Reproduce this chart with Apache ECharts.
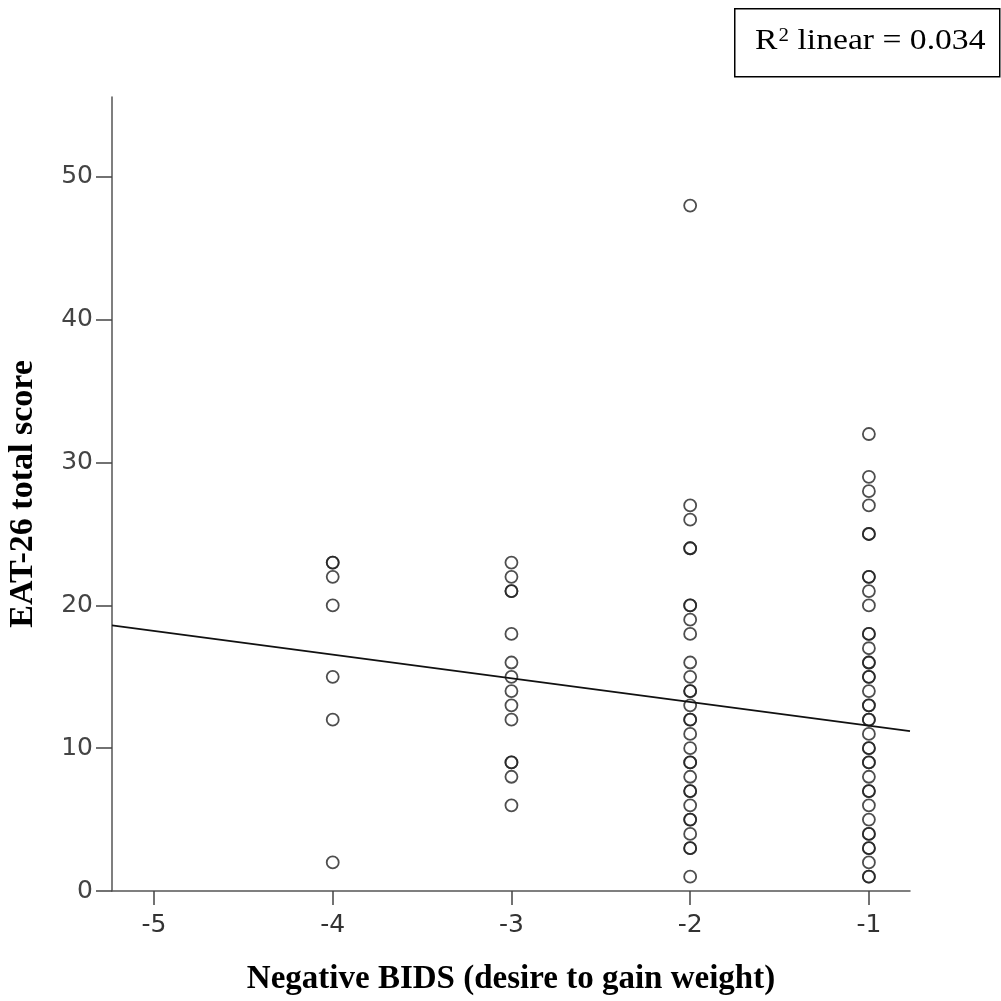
<!DOCTYPE html>
<html>
<head>
<meta charset="utf-8">
<script src="https://cdn.jsdelivr.net/npm/echarts@6/dist/echarts.min.js"></script>
<style>html,body{margin:0;padding:0;background:#fff}#c{width:1001px;height:1001px}</style>
</head>
<body>
<div id="c"></div>
<script>
// EAT-26 scores at each Negative BIDS value (repeated values = overlapping circles)
const scoresAtMinus4 = [23, 23, 22, 20, 15, 12, 2];
const scoresAtMinus3 = [23, 22, 21, 21, 18, 16, 15, 14, 13, 12, 9, 9, 8, 6];
const scoresAtMinus2 = [48, 27, 26, 24, 24, 20, 20, 19, 18, 16, 15, 14, 14, 13, 12, 12, 11, 10, 9, 9, 8, 7, 7, 6, 5, 5, 4, 3, 3, 1];
const scoresAtMinus1 = [32, 29, 28, 27, 25, 25, 22, 22, 21, 20, 18, 18, 17, 16, 16, 15, 15, 14, 13, 13, 12, 12, 11, 10, 10, 9, 9, 8, 7, 7, 6, 5, 4, 4, 3, 3, 2, 1, 1];
const bidsValues = [-4, -3, -2, -1];
// fit line endpoints
const fitX = [-5.235, -0.77];
const fitY = [18.6, 11.2];
const xTicks = [-5, -4, -3, -2, -1];
const yTicks = [0, 10, 20, 30, 40, 50];
const rSquaredText = '0.034';

const groups = [scoresAtMinus4, scoresAtMinus3, scoresAtMinus2, scoresAtMinus1];
const points = [];
groups.forEach((g, i) => g.forEach(v => points.push([bidsValues[i], v])));

const chart = echarts.init(document.getElementById('c'));
chart.setOption({
  animation: false,
  backgroundColor: '#ffffff',
  grid: { left: 112, right: 91, top: 97, bottom: 110, outerBoundsMode: 'none', containLabel: false },
  xAxis: {
    type: 'value', min: -5.235, max: -0.77,
    name: 'Negative BIDS (desire to gain weight)',
    nameLocation: 'middle', nameGap: 72,
    nameTextStyle: { fontFamily: 'Liberation Serif', fontWeight: 'bold', fontSize: 33, color: '#000' },
    axisLine: { onZero: false, lineStyle: { color: '#555', width: 1.5 } },
    axisTick: { show: true, length: 14, customValues: xTicks, lineStyle: { color: '#444', width: 1.5 } },
    axisLabel: { customValues: xTicks, margin: 22, fontFamily: 'DejaVu Sans', fontSize: 25, color: '#333' },
    splitLine: { show: false }
  },
  yAxis: {
    type: 'value', min: 0, max: 55.6,
    name: 'EAT-26 total score',
    nameLocation: 'middle', nameGap: 72, nameRotate: 90,
    nameTextStyle: { fontFamily: 'Liberation Serif', fontWeight: 'bold', fontSize: 34, color: '#000' },
    axisLine: { onZero: false, lineStyle: { color: '#555', width: 1.5 } },
    axisTick: { show: true, length: 16, customValues: yTicks, lineStyle: { color: '#444', width: 1.5 } },
    axisLabel: { customValues: yTicks, margin: 19, fontFamily: 'DejaVu Sans', fontSize: 25, color: '#444' },
    splitLine: { show: false }
  },
  series: [
    {
      type: 'scatter', data: points, symbol: 'circle', symbolSize: 12,
      itemStyle: { color: 'rgba(255,255,255,0)', borderColor: '#222', borderWidth: 1.8 },
      z: 3
    },
    {
      type: 'line', data: fitX.map((x, i) => [x, fitY[i]]), symbol: 'none',
      lineStyle: { color: '#111', width: 1.8 }, z: 4
    }
  ],
  graphic: [
    { type: 'rect', left: 734, top: 8, shape: { width: 265, height: 68 },
      style: { fill: '#fff', stroke: '#000', lineWidth: 1.5 } },
    { type: 'text', x: 755, y: 27, scaleX: 1.16,
      style: {
        text: '{r|R}{sup|2}{r| linear = ' + rSquaredText + '}',
        rich: {
          r: { fontFamily: 'Liberation Serif', fontSize: 29, fill: '#000', verticalAlign: 'bottom' },
          sup: { fontFamily: 'Liberation Serif', fontSize: 18, fill: '#000', verticalAlign: 'top', padding: [0, 0, 10, 1] }
        }
      } }
  ]
});
</script>
</body>
</html>
